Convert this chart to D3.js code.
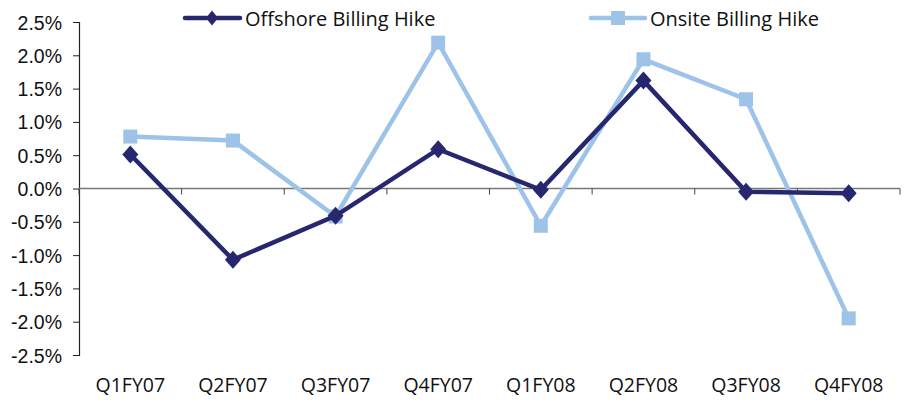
<!DOCTYPE html>
<html lang="en">
  <head>
    <meta charset="UTF-8" />
    <script src="https://d3js.org/d3.v7.min.js"></script>
    <style>
      body { margin: 0; background: #fff; }
      svg { font-family: "Open Sans", sans-serif; }
    </style>
  </head>
  <body>
    <div id="chart"></div>
    <script>
      // Quarters and billing hike values (%)
      const quarters = ["Q1FY07", "Q2FY07", "Q3FY07", "Q4FY07", "Q1FY08", "Q2FY08", "Q3FY08", "Q4FY08"];
      const offshore = [0.51, -1.07, -0.41, 0.59, -0.02, 1.62, -0.05, -0.07];
      const onsite = [0.78, 0.72, -0.42, 2.19, -0.56, 1.94, 1.34, -1.95];
      const yTicks = [2.5, 2.0, 1.5, 1.0, 0.5, 0.0, -0.5, -1.0, -1.5, -2.0, -2.5];

      const navy = "#27276f";
      const light = "#9dc3e8";

      const width = 913, height = 400;
      const margin = { top: 22, right: 13, bottom: 45, left: 79 };

      const svg = d3.select("#chart").append("svg")
        .attr("width", width).attr("height", height);

      const x = d3.scaleBand().domain(quarters).range([margin.left, width - margin.right]);
      const y = d3.scaleLinear().domain([-2.5, 2.5]).range([height - margin.bottom, margin.top]);
      const cx = (i) => x(quarters[i]) + x.bandwidth() / 2;

      // diamond path, a bit taller than wide
      function diamondPath(w, h) {
        return `M0,${-h / 2}L${w / 2},0L0,${h / 2}L${-w / 2},0Z`;
      }

      // Y axis
      const yAxis = svg.append("g")
        .attr("transform", `translate(${margin.left},0)`)
        .call(d3.axisLeft(y).tickValues(yTicks).tickSize(6).tickPadding(11)
          .tickFormat((d) => d.toFixed(1) + "%"));
      yAxis.select(".domain").attr("stroke", "#222").attr("stroke-width", 1.2);
      yAxis.selectAll(".tick line").attr("stroke", "#222");
      yAxis.selectAll("text").attr("font-size", 19.5).attr("fill", "#111").attr("dy", "0.36em");

      // X axis along zero line, ticks at category boundaries
      const xAxis = svg.append("g").attr("transform", `translate(0,${y(0)})`);
      xAxis.append("line")
        .attr("x1", margin.left).attr("x2", width - margin.right)
        .attr("stroke", "#777").attr("stroke-width", 1.5);
      xAxis.selectAll(".bt")
        .data(quarters.concat(["end"]))
        .enter().append("line")
        .attr("x1", (d, i) => margin.left + i * x.step())
        .attr("x2", (d, i) => margin.left + i * x.step())
        .attr("y1", 0).attr("y2", 6)
        .attr("stroke", "#444");

      svg.append("g").selectAll("text")
        .data(quarters).enter().append("text")
        .attr("x", (d) => x(d) + x.bandwidth() / 2)
        .attr("y", 392)
        .attr("text-anchor", "middle")
        .attr("font-size", 19.5).attr("fill", "#111")
        .text((d) => d);

      const line = d3.line()
        .x((d, i) => cx(i))
        .y((d) => y(d));

      // Onsite series (drawn first, behind)
      svg.append("path").datum(onsite)
        .attr("d", line).attr("fill", "none")
        .attr("stroke", light).attr("stroke-width", 4.5);
      svg.append("g").selectAll("rect").data(onsite).enter().append("rect")
        .attr("x", (d, i) => cx(i) - 7)
        .attr("y", (d) => y(d) - 7)
        .attr("width", 14).attr("height", 14)
        .attr("fill", light);

      // Offshore series
      svg.append("path").datum(offshore)
        .attr("d", line).attr("fill", "none")
        .attr("stroke", navy).attr("stroke-width", 4.5);
      svg.append("g").selectAll("path").data(offshore).enter().append("path")
        .attr("d", diamondPath(16, 18))
        .attr("transform", (d, i) => `translate(${cx(i)},${y(d)})`)
        .attr("fill", navy);

      // Legend
      const legend = svg.append("g");
      const lg1 = legend.append("g").attr("transform", "translate(185,18)");
      lg1.append("line").attr("x1", 0).attr("x2", 55)
        .attr("stroke", navy).attr("stroke-width", 4.5).attr("stroke-linecap", "round");
      lg1.append("path").attr("d", diamondPath(12, 15)).attr("transform", "translate(27,0)").attr("fill", navy);
      lg1.append("text").attr("x", 60).attr("y", 8)
        .attr("font-size", 20).attr("fill", "#111").text("Offshore Billing Hike");

      const lg2 = legend.append("g").attr("transform", "translate(591,18)");
      lg2.append("line").attr("x1", 0).attr("x2", 54)
        .attr("stroke", light).attr("stroke-width", 4.5).attr("stroke-linecap", "round");
      lg2.append("rect").attr("x", 20).attr("y", -7).attr("width", 14).attr("height", 14).attr("fill", light);
      lg2.append("text").attr("x", 59).attr("y", 8)
        .attr("font-size", 20).attr("fill", "#111").text("Onsite Billing Hike");
    </script>
  </body>
</html>
